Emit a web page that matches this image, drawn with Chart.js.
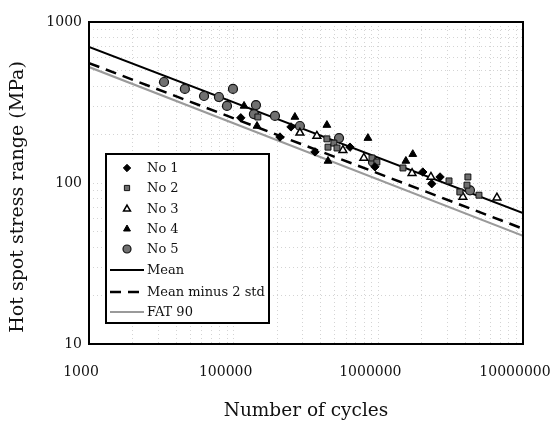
<!DOCTYPE html>
<html><head><meta charset="utf-8">
<script src="https://cdn.jsdelivr.net/npm/chart.js@4/dist/chart.umd.min.js"></script>
<style>html,body{margin:0;padding:0;background:#fff;overflow:hidden}</style>
</head><body>
<canvas id="c" width="551" height="424" style="display:block;width:551px;height:424px"></canvas>
<script>
// ---- axis ticks (as printed on the reference) ----
const xTickValues = [1e4, 1e5, 1e6, 1e7];
const xTickLabels = ["1000", "100000", "1000000", "10000000"];
const yTickValues = [10, 100, 1000];
const yTickLabels = ["10", "100", "1000"];
const xTitle = "Number of cycles";
const yTitle = "Hot spot stress range (MPa)";

// ---- test series: [cycles, hot spot stress range MPa] ----
const no1 = [[112000,254],[209000,193],[249000,223],[365000,156],[637000,167],[947000,126],[2030000,117],[2340000,99],[2670000,109]];
const no2 = [[147000,257],[441000,188],[449000,167],[493000,177],[518000,165],[904000,143],[977000,135],[1480000,124],[3080000,103],[3660000,88],[4100000,97],[4160000,109],[4960000,84]];
const no3 = [[287000,205],[376000,196],[569000,160],[794000,143],[1710000,115],[2310000,109],[3840000,82],[6600000,81]];
const no4 = [[118000,301],[145000,226],[265000,257],[441000,229],[449000,137],[847000,190],[1550000,137],[1730000,151]];
const no5 = [[33000,424],[46000,384],[62400,347],[79100,342],[89900,301],[98900,384],[138000,268],[142600,305],[193000,261],[287000,226],[535000,190],[918000,135],[4300000,90]];

// ---- design curves (end points) ----
const meanLine = [[1e4,700],[1e7,65]];
const meanMinus2Std = [[1e4,556],[1e7,52]];
const fat90 = [[1e4,525],[1e7,47]];

const toXY = a => a.map(p => ({x:p[0], y:p[1]}));
const SERIF = "'DejaVu Serif', 'Liberation Serif', serif";

function decadeGrid(lo, hi){
  const out=[];
  for(let e=Math.round(Math.log10(lo)); e<Math.round(Math.log10(hi)); e++){
    for(let m=1;m<=9;m++) out.push({value:m*Math.pow(10,e)});
  }
  out.push({value:hi});
  return out;
}
function labelFor(v, vals, labs){
  for(let i=0;i<vals.length;i++) if(Math.abs(v/vals[i]-1)<1e-9) return labs[i];
  return '';
}

const pointSets = [
  {label:'No 1', data:toXY(no1), pointStyle:'rectRot', pointRadius:4.2, backgroundColor:'#000', borderColor:'#000', borderWidth:1},
  {label:'No 2', data:toXY(no2), pointStyle:'rect', pointRadius:4.2, backgroundColor:'#6e6e6e', borderColor:'#111', borderWidth:1},
  {label:'No 3', data:toXY(no3), pointStyle:'triangle', pointRadius:4.5, backgroundColor:'#fff', borderColor:'#000', borderWidth:1.5},
  {label:'No 4', data:toXY(no4), pointStyle:'triangle', pointRadius:4.5, backgroundColor:'#000', borderColor:'#000', borderWidth:1},
  {label:'No 5', data:toXY(no5), pointStyle:'circle', pointRadius:4.5, backgroundColor:'#707070', borderColor:'#111', borderWidth:1.2}
];
const lineSets = [
  {label:'Mean', data:toXY(meanLine), showLine:true, pointRadius:0, borderColor:'#000', borderWidth:2},
  {label:'Mean minus 2 std', data:toXY(meanMinus2Std), showLine:true, pointRadius:0, borderColor:'#000', borderWidth:2.5, borderDash:[11,7]},
  {label:'FAT 90', data:toXY(fat90), showLine:true, pointRadius:0, borderColor:'#9a9a9a', borderWidth:2}
];

const framePlugin = {
  id:'frame',
  afterDatasetsDraw(chart){
    const {ctx, chartArea:a} = chart;
    ctx.save();
    ctx.strokeStyle='#000'; ctx.lineWidth=2;
    ctx.strokeRect(a.left, a.top, a.right-a.left, a.bottom-a.top);
    // legend box
    const bx=106, by=154, bw=163, bh=169;
    ctx.fillStyle='#fff';
    ctx.fillRect(bx,by,bw,bh);
    ctx.strokeRect(bx,by,bw,bh);
    const rowY=[168,188,209,229,249,270,292,312];
    ctx.font="13px "+SERIF;
    ctx.textBaseline='middle';
    ctx.textAlign='left';
    chart.data.datasets.forEach((ds,i)=>{
      const y=rowY[i];
      ctx.save();
      if(ds.showLine){
        ctx.strokeStyle=ds.borderColor; ctx.lineWidth=ds.borderWidth;
        ctx.setLineDash(ds.borderDash||[]);
        ctx.beginPath(); ctx.moveTo(110,y); ctx.lineTo(144,y); ctx.stroke();
      } else {
        ctx.fillStyle=ds.backgroundColor; ctx.strokeStyle=ds.borderColor; ctx.lineWidth=ds.borderWidth;
        Chart.helpers.drawPoint(ctx,{pointStyle:ds.pointStyle, radius:ds.pointRadius-0.5, borderWidth:ds.borderWidth, rotation:0},127,y);
      }
      ctx.restore();
      ctx.fillStyle='#111';
      ctx.fillText(ds.label, 147, y+1);
    });
    // y axis title
    ctx.save();
    ctx.translate(18, 197);
    ctx.rotate(-Math.PI/2);
    ctx.font="19px "+SERIF;
    ctx.fillStyle='#111';
    ctx.textAlign='center';
    ctx.textBaseline='middle';
    ctx.fillText(yTitle, 0, 0);
    ctx.restore();
    ctx.restore();
  }
};

new Chart(document.getElementById('c'), {
  type:'scatter',
  data:{datasets:[...pointSets, ...lineSets]},
  options:{
    responsive:false, animation:false, devicePixelRatio:1,
    layout:{padding:{left:0,right:28,top:22,bottom:0}},
    plugins:{legend:{display:false}, tooltip:{enabled:false}},
    scales:{
      x:{
        type:'logarithmic', position:'bottom', min:1e4, max:1e7,
        afterBuildTicks:s=>{ s.ticks = decadeGrid(1e4,1e7); },
        afterFit:s=>{ s.height=80; s.paddingLeft=0; s.paddingRight=0; },
        grid:{color:'#d4d4d4', lineWidth:1, drawTicks:false},
        border:{display:false, dash:[1,3]},
        ticks:{autoSkip:false, maxRotation:0, padding:20, labelOffset:-8, color:'#111',
          font:{family:SERIF, size:14},
          callback:v=>labelFor(v,xTickValues,xTickLabels)},
        title:{display:true, text:xTitle, color:'#111', font:{family:SERIF, size:18.5}, padding:{top:0,bottom:2}}
      },
      y:{
        type:'logarithmic', position:'left', min:10, max:1000,
        afterBuildTicks:s=>{ s.ticks = decadeGrid(10,1000); },
        afterFit:s=>{ s.width=89; s.paddingTop=0; s.paddingBottom=0; },
        grid:{color:'#d4d4d4', lineWidth:1, drawTicks:false},
        border:{display:false, dash:[1,3]},
        ticks:{autoSkip:false, padding:7, color:'#111',
          font:{family:SERIF, size:14},
          callback:v=>labelFor(v,yTickValues,yTickLabels)},
        title:{display:false, text:yTitle}
      }
    }
  },
  plugins:[framePlugin]
});
</script>
</body></html>
